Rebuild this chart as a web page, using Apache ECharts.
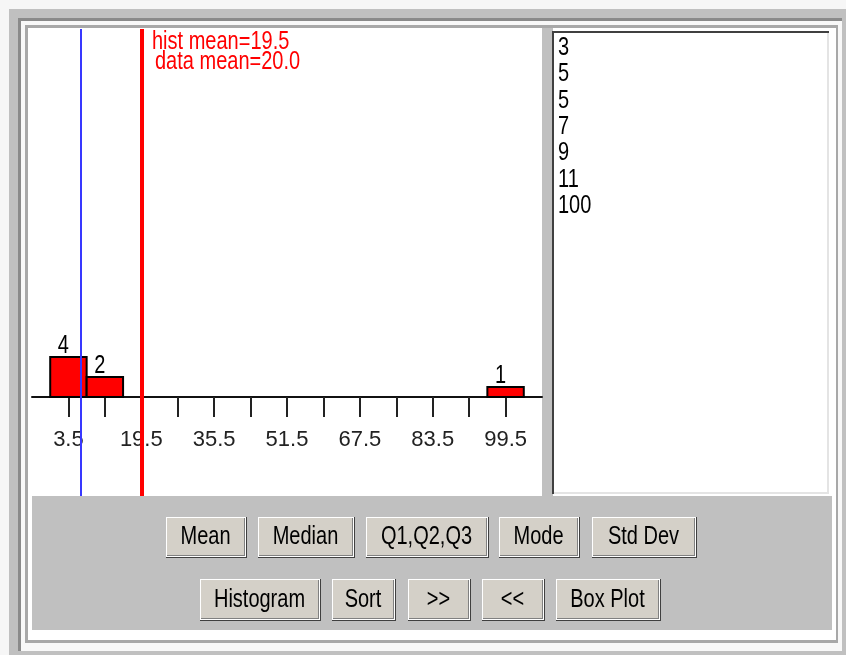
<!DOCTYPE html>
<html>
<head>
<meta charset="utf-8">
<script src="https://cdn.jsdelivr.net/npm/echarts@6/dist/echarts.min.js"></script>
<style>
html,body{margin:0;padding:0;background:#f6f6f6;}
#chart{width:846px;height:655px;}
</style>
</head>
<body>
<div id="chart"></div>
<script>
// ---- data ----
const dataValues = [3, 5, 5, 7, 9, 11, 100];
const binStarts = [-0.5, 7.5, 95.5];
const binEnds = [7.5, 15.5, 103.5];
const binCounts = [4, 2, 1];
const tickValues = [3.5, 11.5, 19.5, 27.5, 35.5, 43.5, 51.5, 59.5, 67.5, 75.5, 83.5, 91.5, 99.5];
const tickLabels = ['3.5', '19.5', '35.5', '51.5', '67.5', '83.5', '99.5'];
const histMean = 19.5;
const dataMean = 20.0;
const blueLineValue = 6.3;
const buttonsRow1 = ['Mean', 'Median', 'Q1,Q2,Q3', 'Mode', 'Std Dev'];
const buttonsRow2 = ['Histogram', 'Sort', '>>', '<<', 'Box Plot'];

// ---- layout / style ----
const FONT = "Liberation Sans";
const FS = 25;
const SX = 0.8;
const row1Boxes = [[166, 247], [258, 355], [366, 489], [499, 580], [592, 697]];
const row2Boxes = [[200, 321], [332, 396], [408, 471], [482, 545], [556, 661]];

function rect(x, y, w, h, fill, z) {
  return {type: 'rect', shape: {x: x, y: y, width: w, height: h}, style: {fill: fill}, z: z == null ? -10 : z, silent: true};
}
function label(text, x, y, color, align, vAlign, z, lh) {
  return {type: 'text', x: x, y: y, scaleX: SX, z: z, silent: true,
          style: {text: text, x: 0, y: 0, align: align, verticalAlign: vAlign, lineHeight: lh || 25,
                  font: FS + 'px ' + FONT, fill: color}};
}
function button(text, x0, x1, y0, y1) {
  const w = x1 - x0, h = y1 - y0;
  return [
    rect(x0, y0, w, h, '#404040', -5),
    rect(x0, y0, w - 1, h - 1, '#ffffff', -5),
    rect(x0 + 1, y0 + 1, w - 3, h - 3, '#808080', -5),
    rect(x0 + 1, y0 + 1, w - 4, h - 4, '#d4d0c8', -5),
    label(text, (x0 + x1) / 2 - 1, (y0 + y1) / 2, '#000', 'center', 'middle', -4)
  ];
}

const graphics = [
  rect(9, 9, 837, 646, '#c0c0c0'),
  rect(18, 18, 824, 633, '#8a8a8a'),
  rect(21, 21, 821, 630, '#f8f8f8'),
  rect(25, 25, 813, 618, '#a8a8a8'),
  rect(28, 28, 808, 612, '#ffffff'),
  rect(542, 28, 11, 470, '#c0c0c0'),
  rect(32, 496, 800, 134, '#c0c0c0'),
  rect(552, 31, 277, 463, '#404040'),
  rect(554, 33, 275, 461, '#e4e4e4'),
  rect(554, 33, 273, 459, '#ffffff'),
  label(dataValues.join('\n'), 558, 35, '#000', 'left', 'top', -4, 26.3),
  label('hist mean=' + histMean.toFixed(1), 152, 30, '#ff0000', 'left', 'top', 20),
  label('data mean=' + dataMean.toFixed(1), 155, 50, '#ff0000', 'left', 'top', 20)
];
buttonsRow1.forEach((b, i) => graphics.push(...button(b, row1Boxes[i][0], row1Boxes[i][1], 517, 558)));
buttonsRow2.forEach((b, i) => graphics.push(...button(b, row2Boxes[i][0], row2Boxes[i][1], 579, 621)));

const barData = binCounts.map((c, i) => [binStarts[i], binEnds[i], c]);
const labelNums = tickLabels.map(Number);

const chart = echarts.init(document.getElementById('chart'), null, {renderer: 'canvas'});
chart.setOption({
  animation: false,
  backgroundColor: '#f6f6f6',
  graphic: {elements: graphics},
  grid: [
    {left: 32, top: 29, width: 510, height: 368, containLabel: false},
    {left: 32, top: 29, width: 510, height: 467, containLabel: false}
  ],
  xAxis: [
    {
      type: 'value', gridIndex: 0, min: -4.5, max: 107.5,
      axisLine: {show: true, onZero: false, lineStyle: {color: '#111', width: 2}},
      axisTick: {show: true, customValues: tickValues, length: 20, lineStyle: {color: '#222', width: 2}},
      axisLabel: {show: true, customValues: labelNums,
                  formatter: v => tickLabels[labelNums.indexOf(v)] || '',
                  margin: 30, fontSize: 22, fontFamily: FONT, color: '#222', lineHeight: 25, hideOverlap: false},
      splitLine: {show: false}
    },
    {type: 'value', gridIndex: 1, min: -4.5, max: 107.5, show: false, splitLine: {show: false}}
  ],
  yAxis: [
    {type: 'value', gridIndex: 0, min: 0, max: 36.8, show: false, splitLine: {show: false}},
    {type: 'value', gridIndex: 1, min: 0, max: 1, show: false, splitLine: {show: false}}
  ],
  series: [
    {
      type: 'custom', z: 2, xAxisIndex: 0, yAxisIndex: 0,
      encode: {x: [0, 1], y: 2},
      data: barData,
      renderItem: function (params, api) {
        const s = api.coord([api.value(0), api.value(2)]);
        const e = api.coord([api.value(1), 0]);
        return {type: 'group', children: [
          {type: 'rect', shape: {x: s[0], y: s[1], width: e[0] - s[0], height: e[1] - s[1]},
           style: {fill: '#ff0000', stroke: '#000', lineWidth: 2}},
          {type: 'text', x: (s[0] + e[0]) / 2 - 5, y: s[1] + 2, scaleX: SX,
           style: {text: String(api.value(2)), x: 0, y: 0,
            align: 'center', verticalAlign: 'bottom', lineHeight: 25, font: FS + 'px ' + FONT, fill: '#000'}}
        ]};
      }
    },
    {
      type: 'line', z: 5, xAxisIndex: 1, yAxisIndex: 1, data: [], silent: true,
      markLine: {
        silent: true, symbol: ['none', 'none'], label: {show: false}, animation: false,
        data: [
          {xAxis: histMean, lineStyle: {color: '#ff0000', width: 4, type: 'solid'}},
          {xAxis: blueLineValue, lineStyle: {color: '#3838ff', width: 2, type: 'solid'}}
        ]
      }
    }
  ]
});
</script>
</body>
</html>
